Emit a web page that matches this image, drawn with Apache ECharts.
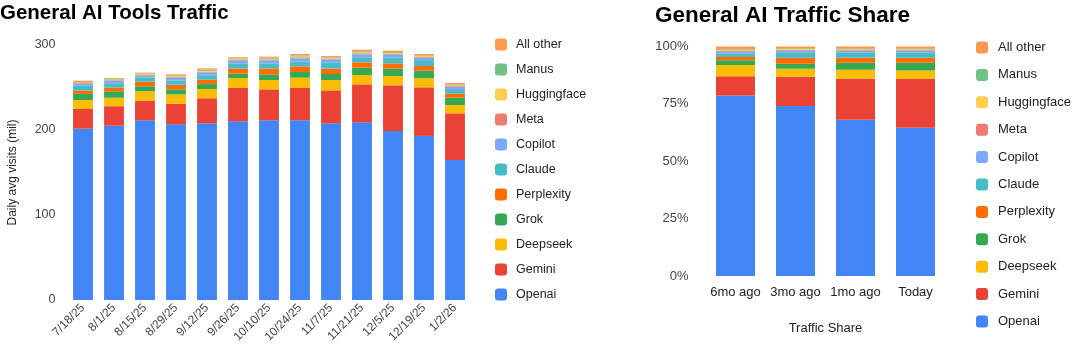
<!DOCTYPE html>
<html>
<head>
<meta charset="utf-8">
<script src="https://cdn.jsdelivr.net/npm/echarts@6/dist/echarts.min.js"></script>
<style>
  html, body { margin: 0; padding: 0; background: #fff; }
  #chart { width: 1080px; height: 353px; }
</style>
</head>
<body>
<div id="chart"></div>
<script>
// 左图：日期
const dates = ['7/18/25', '8/1/25', '8/15/25', '8/29/25', '9/12/25', '9/26/25', '10/10/25',
  '10/24/25', '11/7/25', '11/21/25', '12/5/25', '12/19/25', '1/2/26']

// 左图：每日访问量（百万）
const openai = [201.5, 205, 211.4, 206.7, 207.8, 210.2, 211.4, 211.4, 207.8, 209, 198.8, 193, 164.7]
const gemini = [23.2, 23, 23.1, 24.3, 29.5, 39.2, 36.4, 38, 38.8, 44.7, 53.7, 57.2, 54.9]
const deepseek = [10.6, 10, 11, 11, 10.9, 11.6, 11, 12.2, 12.2, 11, 11, 10.8, 9.8]
const grok = [7.1, 7.5, 5.9, 5.8, 5.8, 5.3, 6.7, 6.6, 7.1, 8.6, 8.7, 8.8, 8.6]
const perplexity = [3.9, 4.5, 5.5, 5.5, 5.2, 6.2, 7, 6.7, 6.3, 6.3, 6.2, 5.5, 4.7]
const claude = [6.2, 5, 4.7, 5.1, 5.1, 5.9, 5.9, 5.5, 7.4, 5.9, 6.6, 5.9, 4.3]
const copilot = [2, 3, 2.4, 3.2, 3.2, 3.1, 3.6, 3.9, 3.5, 3.5, 3.6, 3.5, 3.6]
const meta = [0.8, 0.7, 0.8, 0.9, 1.1, 0.9, 1, 1.1, 0.9, 1.2, 1, 1, 1]
const huggingface = [0.5, 0.5, 0.8, 0.8, 1.1, 0.8, 0.9, 1.1, 0.8, 1.1, 1, 1, 0.9]
const manus = [0.7, 0.7, 0.9, 0.9, 1.2, 0.9, 1, 1.2, 0.8, 1.3, 1.1, 1.1, 1.1]
const allOther = [1.5, 1.1, 1, 1.3, 1.6, 1.4, 1.4, 1.7, 1.4, 1.9, 1.6, 1.6, 1.7]

// 右图：份额（%）
const periods = ['6mo ago', '3mo ago', '1mo ago', 'Today']
const shareOpenai = [78.6, 74.1, 68.1, 64.6]
const shareGemini = [8.4, 12.7, 17.9, 21.4]
const shareDeepseek = [4.9, 3.5, 3.9, 3.5]
const shareGrok = [2.1, 2.2, 3.0, 3.4]
const sharePerplexity = [1.4, 2.6, 2.2, 2.2]
const shareClaude = [1.6, 2.4, 2.2, 2.2]
const shareCopilot = [0.7, 0.7, 0.7, 0.7]
const shareMeta = [0.4, 0.4, 0.4, 0.4]
const shareHuggingface = [0.3, 0.3, 0.3, 0.3]
const shareManus = [0.4, 0.3, 0.3, 0.3]
const shareAllOther = [1.2, 0.8, 1.0, 1.0]

const names = ['Openai', 'Gemini', 'Deepseek', 'Grok', 'Perplexity', 'Claude', 'Copilot',
  'Meta', 'Huggingface', 'Manus', 'All other']
const colors = ['#4285F4', '#EA4335', '#FBBC04', '#34A853', '#FF6D01', '#46BDC6', '#7BAAF7',
  '#F07B72', '#FCD04F', '#71C287', '#FF994D']

const trafficData = [openai, gemini, deepseek, grok, perplexity, claude, copilot, meta, huggingface, manus, allOther]
const shareData = [shareOpenai, shareGemini, shareDeepseek, shareGrok, sharePerplexity, shareClaude,
  shareCopilot, shareMeta, shareHuggingface, shareManus, shareAllOther]

const font = 'Liberation Sans, Arial, sans-serif'
const labelColor = '#444'

const series = []
names.forEach((name, i) => {
  series.push({
    name, type: 'bar', stack: 'traffic', xAxisIndex: 0, yAxisIndex: 0,
    barWidth: '64%', data: trafficData[i],
    itemStyle: { color: colors[i] }
  })
})
names.forEach((name, i) => {
  series.push({
    name, type: 'bar', stack: 'share', xAxisIndex: 1, yAxisIndex: 1,
    barWidth: '65%', data: shareData[i],
    itemStyle: { color: colors[i] }
  })
})

const legendNames = names.slice().reverse()

const chart = echarts.init(document.getElementById('chart'))
chart.setOption({
  animation: false,
  textStyle: { fontFamily: font },
  title: [
    { text: 'General AI Tools Traffic', left: 0, top: 3, padding: 0,
      textStyle: { fontSize: 20.5, fontWeight: 'bold', color: '#000', fontFamily: font } },
    { text: 'General AI Traffic Share', left: 655, top: 4, padding: 0,
      textStyle: { fontSize: 22.5, fontWeight: 'bold', color: '#000', fontFamily: font } }
  ],
  legend: [
    { orient: 'vertical', left: 495, top: 38, padding: 0, data: legendNames, itemWidth: 12, itemHeight: 12,
      itemGap: 12, icon: 'roundRect', selectedMode: false,
      textStyle: { fontSize: 12.5, color: '#222', fontFamily: font, padding: [0, 0, 0, 4] } },
    { orient: 'vertical', left: 976, top: 41, padding: 0, data: legendNames, itemWidth: 12, itemHeight: 12,
      itemGap: 14.4, icon: 'roundRect', selectedMode: false,
      textStyle: { fontSize: 13, color: '#222', fontFamily: font, padding: [0, 0, 0, 5] } }
  ],
  grid: [
    { left: 67.5, right: 1080 - 470.5, top: 45, height: 255 },
    { left: 705.5, right: 1080 - 945.5, top: 46.5, height: 229.5 }
  ],
  xAxis: [
    { type: 'category', gridIndex: 0, data: dates,
      axisLine: { show: false }, axisTick: { show: false },
      axisLabel: { rotate: 45, fontSize: 12, color: labelColor, margin: 6, interval: 0 } },
    { type: 'category', gridIndex: 1, data: periods,
      axisLine: { show: false }, axisTick: { show: false },
      axisLabel: { fontSize: 13, color: '#222', margin: 10, interval: 0 },
      name: 'Traffic Share', nameLocation: 'middle', nameGap: 46,
      nameTextStyle: { fontSize: 13, color: '#222' } }
  ],
  yAxis: [
    { type: 'value', gridIndex: 0, min: 0, max: 300, interval: 100,
      splitLine: { show: false },
      axisLabel: { fontSize: 12.5, color: labelColor, margin: 12 },
      name: 'Daily avg visits (mil)', nameLocation: 'middle', nameGap: 49, nameRotate: 90,
      nameTextStyle: { fontSize: 12, color: '#222' } },
    { type: 'value', gridIndex: 1, min: 0, max: 100, interval: 25,
      splitLine: { show: false },
      axisLabel: { fontSize: 13, color: labelColor, margin: 17, formatter: '{value}%' } }
  ],
  series
})
</script>
</body>
</html>
